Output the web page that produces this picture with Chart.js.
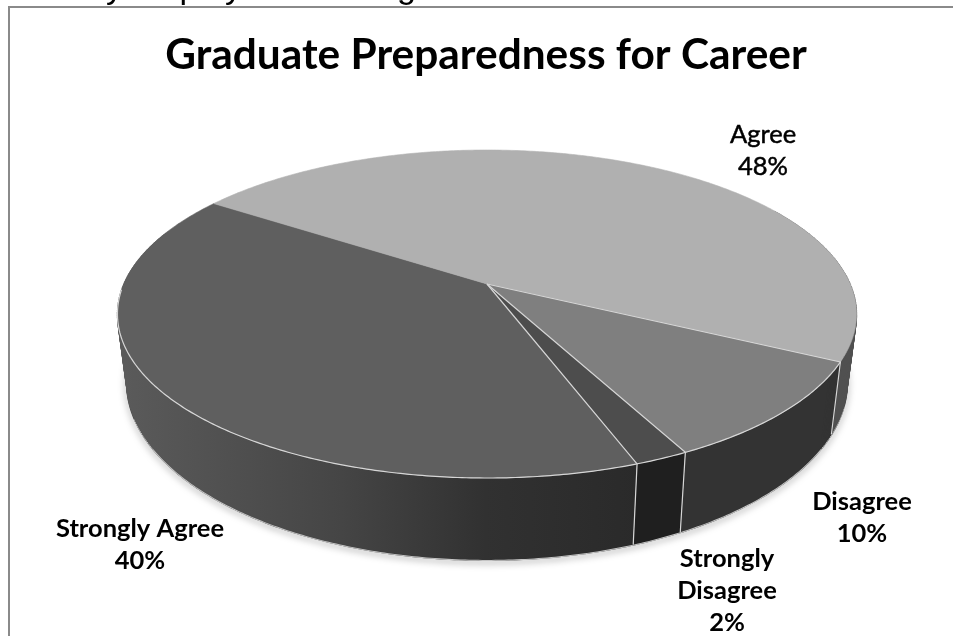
<!DOCTYPE html>
<html>
<head>
<meta charset="utf-8">
<title>Graduate Preparedness for Career</title>
<script src="https://cdn.jsdelivr.net/npm/chart.js@4"></script>
<style>
  html, body { margin: 0; background: #fff; overflow: hidden; }
  canvas { display: block; }
</style>
</head>
<body>
<canvas id="chart" width="953" height="636"></canvas>
<script>
const categories = ['Strongly Agree', 'Agree', 'Disagree', 'Strongly Disagree'];
const percents = [40, 48, 10, 2];

const topColors = ['#5f5f5f', '#b0b0b0', '#7f7f7f', '#4d4d4d'];
const sideColors = [null, '#505050', '#333333', '#1f1f1f'];

// where each label block sits: centre x, first baseline, line breaks
const labelSpots = [
  { x: 140, y: 537, lines: ['Strongly Agree'] },
  { x: 763, y: 143, lines: ['Agree'] },
  { x: 862, y: 510, lines: ['Disagree'] },
  { x: 727, y: 567, lines: ['Strongly', 'Disagree'] },
];

// perspective for the disc: top face and bottom face
const topFace = { cx: 487, cy: 284, b: 363.3, c: 158.5, k: 0.183 };
const bottomFace = { cx: 487, cy: 350, b: 354, c: 171.5, k: 0.183 };

// angle is clockwise from 12 o'clock, same as the arc elements + 90deg
function project(face, a) {
  const u = Math.sin(a);
  const v = -Math.cos(a);
  const w = 1 - face.k * v;
  return { x: face.cx + face.b * u / w, y: face.cy + face.c * v / w };
}

function tracePoints(ctx, face, a0, a1, start) {
  const steps = Math.max(2, Math.ceil(Math.abs(a1 - a0) / 0.01));
  for (let i = 0; i <= steps; i++) {
    const p = project(face, a0 + (a1 - a0) * i / steps);
    if (i === 0 && start) ctx.moveTo(p.x, p.y);
    else ctx.lineTo(p.x, p.y);
  }
}

// one solid piece of wall, then rulings from top to foot to fill out the silhouette at the sides
function fillWall(ctx, a0, a1) {
  ctx.beginPath();
  tracePoints(ctx, topFace, a0, a1, true);
  tracePoints(ctx, bottomFace, a1, a0, false);
  ctx.closePath();
  ctx.fill();

  const steps = Math.ceil((a1 - a0) / 0.01);
  ctx.lineWidth = 1.5;
  for (let i = 0; i <= steps; i++) {
    const a = a0 + (a1 - a0) * i / steps;
    if (Math.abs(Math.sin(a)) < 0.85) continue;
    const t = project(topFace, a), f = project(bottomFace, a);
    ctx.beginPath();
    ctx.moveTo(t.x, t.y);
    ctx.lineTo(f.x, f.y);
    ctx.stroke();
  }
}

const DEG = Math.PI / 180;

const disc3d = {
  id: 'disc3d',
  // the slices are painted here with the perspective applied, so the flat arcs are skipped
  beforeDatasetsDraw(chart) {
    const ctx = chart.ctx;
    const arcs = chart.getDatasetMeta(0).data;
    const slices = arcs.map(arc => ({
      a0: arc.startAngle + Math.PI / 2,
      a1: arc.endAngle + Math.PI / 2,
    }));

    ctx.save();

    // soft shadow under the lower rim
    ctx.save();
    ctx.shadowColor = 'rgba(0,0,0,0.55)';
    ctx.shadowBlur = 7;
    ctx.shadowOffsetY = 2;
    ctx.strokeStyle = '#444';
    ctx.lineWidth = 2;
    ctx.beginPath();
    tracePoints(ctx, bottomFace, 95 * DEG, 268 * DEG, true);
    ctx.stroke();
    ctx.restore();

    // pale rim along the foot of the wall, trimmed short of the sides
    ctx.strokeStyle = '#c4c4c4';
    ctx.lineWidth = 2;
    ctx.beginPath();
    tracePoints(ctx, bottomFace, 108 * DEG, 248 * DEG, true);
    ctx.stroke();

    // side walls
    const wallShade = ctx.createLinearGradient(125, 0, 640, 0);
    wallShade.addColorStop(0, '#5a5a5a');
    wallShade.addColorStop(0.42, '#454545');
    wallShade.addColorStop(0.7, '#313131');
    wallShade.addColorStop(1, '#2a2a2a');
    slices.forEach((s, i) => {
      const shade = sideColors[i] || wallShade;
      ctx.fillStyle = shade;
      ctx.strokeStyle = shade;
      // only the near half of the disc shows a wall
      const from = Math.max(s.a0, i === 1 ? 2 * Math.PI + 60 * DEG : 60 * DEG);
      const to = Math.min(s.a1, i === 0 ? 290 * DEG : s.a1);
      fillWall(ctx, from, to);
    });

    // top face
    slices.forEach((s, i) => {
      ctx.fillStyle = topColors[i];
      ctx.strokeStyle = topColors[i];
      ctx.lineWidth = 0.6;
      ctx.beginPath();
      ctx.moveTo(topFace.cx, topFace.cy);
      tracePoints(ctx, topFace, s.a0, s.a1, false);
      ctx.closePath();
      ctx.fill();
      ctx.stroke();
    });

    // separators on the near slices and down the wall
    ctx.strokeStyle = '#d6d6d6';
    ctx.lineWidth = 1.2;
    slices.slice(1).forEach(s => {
      const end = s.a1 % (2 * Math.PI);
      const top = project(topFace, end);
      const foot = project(bottomFace, end);
      ctx.beginPath();
      ctx.moveTo(topFace.cx, topFace.cy);
      ctx.lineTo(top.x, top.y);
      ctx.lineTo(foot.x, foot.y);
      ctx.stroke();
    });

    // light edge where the top face meets the wall
    ctx.beginPath();
    tracePoints(ctx, topFace, slices[1].a1 % (2 * Math.PI), 268 * DEG, true);
    ctx.stroke();

    ctx.restore();
    return false;
  },
  afterDraw(chart) {
    const ctx = chart.ctx;
    ctx.save();

    // frame around the chart, open at the right and bottom page edges
    ctx.strokeStyle = '#8a8a8a';
    ctx.lineWidth = 2;
    ctx.beginPath();
    ctx.moveTo(9, 636);
    ctx.lineTo(9, 7);
    ctx.lineTo(953, 7);
    ctx.stroke();

    // line of body text running off the top of the page
    ctx.fillStyle = '#000';
    ctx.font = '34px "Liberation Sans"';
    ctx.textAlign = 'left';
    ctx.fillText('by employers for range', 87, -2);

    // slice labels
    ctx.textAlign = 'center';
    labelSpots.forEach((spot, i) => {
      const lines = spot.lines.concat(percents[i] + '%');
      ctx.font = (i === 1 ? '400' : '700') + ' 25.5px Lato';
      ctx.strokeStyle = '#000';
      ctx.lineWidth = 0.5;
      lines.forEach((line, n) => {
        ctx.fillText(line, spot.x, spot.y + n * 32);
        if (i === 1) ctx.strokeText(line, spot.x, spot.y + n * 32);
      });
    });
    ctx.restore();
  },
};

new Chart(document.getElementById('chart'), {
  type: 'pie',
  data: {
    labels: categories,
    datasets: [{
      data: percents,
      backgroundColor: topColors,
      borderWidth: 0,
    }],
  },
  options: {
    responsive: false,
    animation: false,
    rotation: 160,
    layout: { padding: { left: 19 } },
    plugins: {
      legend: { display: false },
      tooltip: { enabled: false },
      title: {
        display: true,
        text: 'Graduate Preparedness for Career',
        color: '#000',
        font: { family: 'Lato', size: 42.4, weight: 'bold' },
        padding: { top: 30, bottom: 10 },
      },
    },
  },
  plugins: [disc3d],
});
</script>
</body>
</html>
